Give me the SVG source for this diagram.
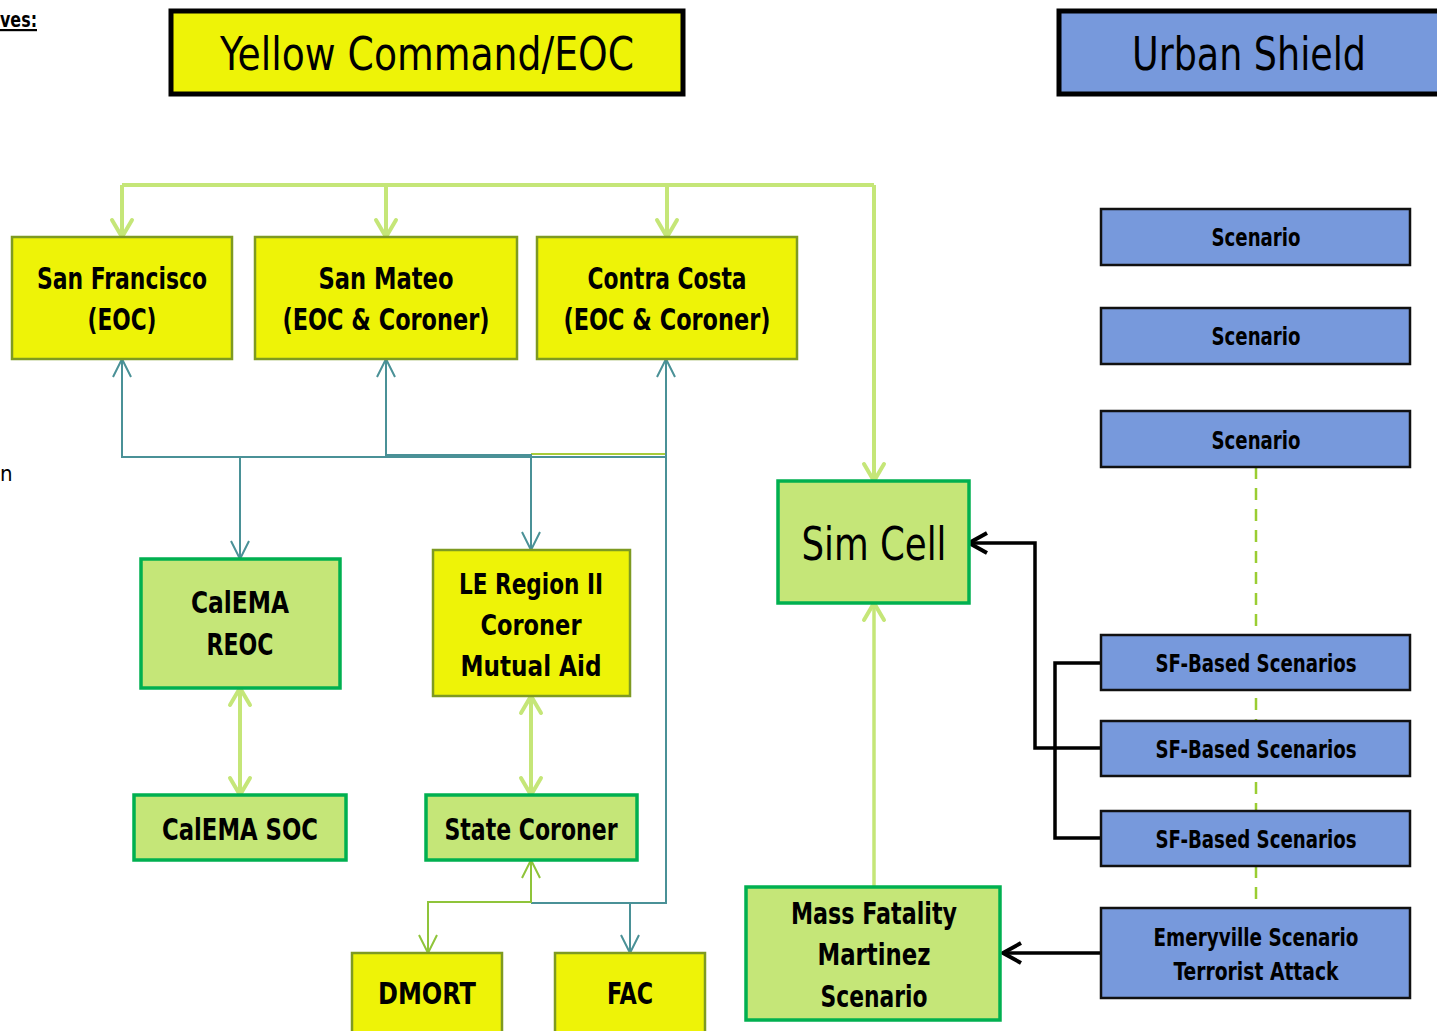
<svg xmlns="http://www.w3.org/2000/svg" width="1437" height="1031" viewBox="0 0 1437 1031">
<style>
text{font-family:"Liberation Sans Narrow","DejaVu Sans Condensed","Liberation Sans",sans-serif;text-anchor:middle;fill:#000}
.b{font-weight:bold}
.t30{font-size:30px}
.t28{font-size:29px}
.t24{font-size:25px}
.big{font-size:46px}
.yel{fill:#EEF307;stroke:#7E9A22;stroke-width:2.5}
.grn{fill:#C5E678;stroke:#00B050;stroke-width:3.5}
.blu{fill:#7799DC;stroke:#111;stroke-width:2.5}
.title{stroke:#000;stroke-width:5}
.lg{fill:none;stroke:#C5E678;stroke-width:4}
.tl{fill:none;stroke:#4A9197;stroke-width:2}
.dg{fill:none;stroke:#8FC43A;stroke-width:2}
.bk{fill:none;stroke:#000;stroke-width:3.5}
</style>
<defs>
<marker id="aG" viewBox="-20 -12 24 24" markerWidth="24" markerHeight="24" refX="0" refY="0" orient="auto-start-reverse" markerUnits="userSpaceOnUse" overflow="visible">
<path d="M-17,-10 L0,0 L-17,10" fill="none" stroke="#C5E678" stroke-width="4" stroke-linecap="round"/>
</marker>
<marker id="aT" viewBox="-20 -12 24 24" markerWidth="24" markerHeight="24" refX="0" refY="0" orient="auto-start-reverse" markerUnits="userSpaceOnUse" overflow="visible">
<path d="M-18,-9 L0,0 L-18,9" fill="none" stroke="#4A9197" stroke-width="2"/>
</marker>
<marker id="aD" viewBox="-20 -12 24 24" markerWidth="24" markerHeight="24" refX="0" refY="0" orient="auto-start-reverse" markerUnits="userSpaceOnUse" overflow="visible">
<path d="M-18,-9 L0,0 L-18,9" fill="none" stroke="#8FC43A" stroke-width="2"/>
</marker>
<marker id="aB" viewBox="-20 -12 24 24" markerWidth="24" markerHeight="24" refX="0" refY="0" orient="auto-start-reverse" markerUnits="userSpaceOnUse" overflow="visible">
<path d="M-18,-10 L0,0 L-18,10" fill="none" stroke="#000" stroke-width="4"/>
</marker>
</defs>
<rect width="1437" height="1031" fill="#fff"/>

<g id="fragments">
<text x="0" y="27" class="b" style="font-size:22px;text-anchor:start;text-decoration:underline" textLength="37" lengthAdjust="spacingAndGlyphs">ves:</text>
<text x="0" y="481" style="font-size:22px;text-anchor:start">n</text>
</g>

<g id="connectors">
<path d="M1256,467 V908" fill="none" stroke="#9ACD32" stroke-width="2.5" stroke-dasharray="12 9"/>
<path class="lg" d="M122,185 H874"/>
<path class="lg" d="M122,185 V237" marker-end="url(#aG)"/>
<path class="lg" d="M386,185 V237" marker-end="url(#aG)"/>
<path class="lg" d="M667,185 V237" marker-end="url(#aG)"/>
<path class="lg" d="M874,185 V481" marker-end="url(#aG)"/>
<path d="M531,454 H666" fill="none" stroke="#A8CC3A" stroke-width="2"/>
<path class="tl" d="M122,359 V457 H666" marker-start="url(#aT)"/>
<path class="tl" d="M240,457 V559" marker-end="url(#aT)"/>
<path class="tl" d="M386,359 V455 H531 V550" marker-start="url(#aT)" marker-end="url(#aT)"/>
<path class="tl" d="M666,359 V903 H531" marker-start="url(#aT)"/>
<path class="tl" d="M630,903 V953" marker-end="url(#aT)"/>
<path class="dg" d="M531,860 V902 H428 V953" marker-start="url(#aD)" marker-end="url(#aD)"/>
<path class="lg" d="M240,688 V795" marker-start="url(#aG)" marker-end="url(#aG)"/>
<path class="lg" d="M531,696 V795" marker-start="url(#aG)" marker-end="url(#aG)"/>
<path class="lg" style="stroke-width:3.5" d="M874,887 V603" marker-end="url(#aG)"/>
<path class="bk" d="M1101,748 H1035 V543 H969" marker-end="url(#aB)"/>
<path class="bk" d="M1101,663 H1055 V838 H1101"/>
<path class="bk" d="M1101,953 H1003" marker-end="url(#aB)"/>
</g>

<g id="yellow-command">
<rect class="title" x="171" y="11" width="512" height="83" fill="#EEF307"/>
<text x="427" y="70" class="big" textLength="414" lengthAdjust="spacingAndGlyphs">Yellow Command/EOC</text>
</g>
<g id="urban-shield">
<rect class="title" x="1059" y="11" width="390" height="83" fill="#7799DC"/>
<text x="1249" y="70" class="big" textLength="234" lengthAdjust="spacingAndGlyphs">Urban Shield</text>
</g>

<g id="san-francisco">
<rect class="yel" x="12" y="237" width="220" height="122"/>
<text x="122" y="289" class="b t30" textLength="170" lengthAdjust="spacingAndGlyphs">San Francisco</text>
<text x="122" y="330" class="b t30" textLength="69" lengthAdjust="spacingAndGlyphs">(EOC)</text>
</g>
<g id="san-mateo">
<rect class="yel" x="255" y="237" width="262" height="122"/>
<text x="386" y="289" class="b t30" textLength="135" lengthAdjust="spacingAndGlyphs">San Mateo</text>
<text x="386" y="330" class="b t30" textLength="207" lengthAdjust="spacingAndGlyphs">(EOC &amp; Coroner)</text>
</g>
<g id="contra-costa">
<rect class="yel" x="537" y="237" width="260" height="122"/>
<text x="667" y="289" class="b t30" textLength="159" lengthAdjust="spacingAndGlyphs">Contra Costa</text>
<text x="667" y="330" class="b t30" textLength="207" lengthAdjust="spacingAndGlyphs">(EOC &amp; Coroner)</text>
</g>

<g id="calema-reoc">
<rect class="grn" x="141" y="559" width="199" height="129"/>
<text x="240" y="613" class="b t30" textLength="98" lengthAdjust="spacingAndGlyphs">CalEMA</text>
<text x="240" y="655" class="b t30" textLength="67" lengthAdjust="spacingAndGlyphs">REOC</text>
</g>
<g id="calema-soc">
<rect class="grn" x="134" y="795" width="212" height="65"/>
<text x="240" y="840" class="b t30" textLength="156" lengthAdjust="spacingAndGlyphs">CalEMA SOC</text>
</g>
<g id="le-region">
<rect class="yel" x="433" y="550" width="197" height="146"/>
<text x="531" y="594" class="b t28" textLength="144" lengthAdjust="spacingAndGlyphs">LE Region II</text>
<text x="531" y="635" class="b t28" textLength="101" lengthAdjust="spacingAndGlyphs">Coroner</text>
<text x="531" y="676" class="b t28" textLength="141" lengthAdjust="spacingAndGlyphs">Mutual Aid</text>
</g>
<g id="state-coroner">
<rect class="grn" x="426" y="795" width="211" height="65"/>
<text x="531" y="840" class="b t30" textLength="173" lengthAdjust="spacingAndGlyphs">State Coroner</text>
</g>
<g id="dmort">
<rect class="yel" x="352" y="953" width="150" height="80"/>
<text x="427" y="1004" class="b t30" textLength="98" lengthAdjust="spacingAndGlyphs">DMORT</text>
</g>
<g id="fac">
<rect class="yel" x="555" y="953" width="150" height="80"/>
<text x="630" y="1004" class="b t30" textLength="46" lengthAdjust="spacingAndGlyphs">FAC</text>
</g>

<g id="sim-cell">
<rect class="grn" x="778" y="481" width="191" height="122"/>
<text x="874" y="560" class="big" textLength="145" lengthAdjust="spacingAndGlyphs">Sim Cell</text>
</g>
<g id="mass-fatality">
<rect class="grn" x="746" y="887" width="254" height="133"/>
<text x="874" y="924" class="b t30" textLength="166" lengthAdjust="spacingAndGlyphs">Mass Fatality</text>
<text x="874" y="965" class="b t30" textLength="113" lengthAdjust="spacingAndGlyphs">Martinez</text>
<text x="874" y="1007" class="b t30" textLength="107" lengthAdjust="spacingAndGlyphs">Scenario</text>
</g>

<g id="scenario-1">
<rect class="blu" x="1101" y="209" width="309" height="56"/>
<text x="1256" y="246" class="b t24" textLength="89" lengthAdjust="spacingAndGlyphs">Scenario</text>
</g>
<g id="scenario-2">
<rect class="blu" x="1101" y="308" width="309" height="56"/>
<text x="1256" y="345" class="b t24" textLength="89" lengthAdjust="spacingAndGlyphs">Scenario</text>
</g>
<g id="scenario-3">
<rect class="blu" x="1101" y="411" width="309" height="56"/>
<text x="1256" y="449" class="b t24" textLength="89" lengthAdjust="spacingAndGlyphs">Scenario</text>
</g>
<g id="sf-based-1">
<rect class="blu" x="1101" y="635" width="309" height="55"/>
<text x="1256" y="672" class="b t24" textLength="201" lengthAdjust="spacingAndGlyphs">SF-Based Scenarios</text>
</g>
<g id="sf-based-2">
<rect class="blu" x="1101" y="721" width="309" height="55"/>
<text x="1256" y="758" class="b t24" textLength="201" lengthAdjust="spacingAndGlyphs">SF-Based Scenarios</text>
</g>
<g id="sf-based-3">
<rect class="blu" x="1101" y="811" width="309" height="55"/>
<text x="1256" y="848" class="b t24" textLength="201" lengthAdjust="spacingAndGlyphs">SF-Based Scenarios</text>
</g>
<g id="emeryville">
<rect class="blu" x="1101" y="908" width="309" height="90"/>
<text x="1256" y="946" class="b t24" textLength="205" lengthAdjust="spacingAndGlyphs">Emeryville Scenario</text>
<text x="1256" y="980" class="b t24" textLength="165" lengthAdjust="spacingAndGlyphs">Terrorist Attack</text>
</g>
</svg>
